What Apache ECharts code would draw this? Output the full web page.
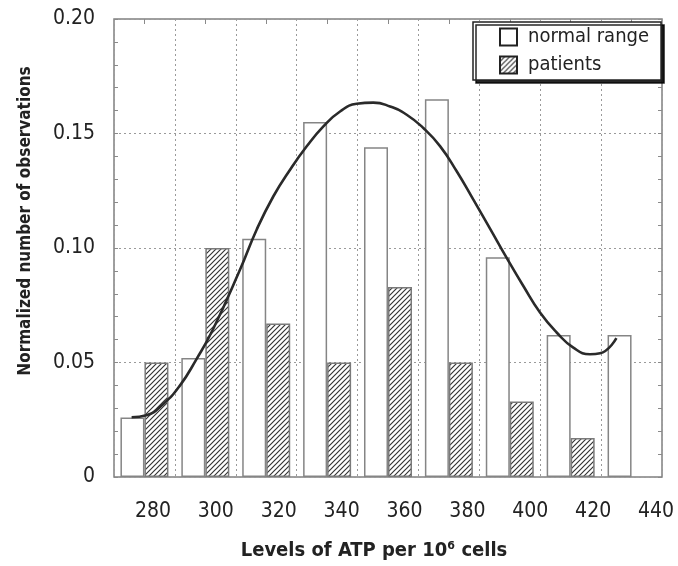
<!DOCTYPE html>
<html>
<head>
<meta charset="utf-8">
<script src="https://cdn.jsdelivr.net/npm/echarts@6/dist/echarts.min.js"></script>
<style>
  html, body { margin: 0; padding: 0; background: #fff; }
  #chart { width: 678px; height: 566px; }
</style>
</head>
<body>
<div id="chart"></div>
<script>
// ---- data ----
const binCentres   = ['277', '297', '316', '335', '355', '374', '394', '413', '432'];
const normalRange  = [0.026, 0.052, 0.104, 0.155, 0.144, 0.165, 0.096, 0.062, 0.062];
const patients     = [0.050, 0.100, 0.067, 0.050, 0.083, 0.050, 0.033, 0.017, null];
const curveX = [273.2, 277.9, 283.2, 288.5, 293.8, 299.1, 307.7, 313.0, 318.3, 323.6, 328.9,
                334.2, 339.5, 344.8, 350.1, 355.4, 360.7, 366.0, 371.3, 376.6, 381.9, 387.2, 392.5, 397.8,
                403.1, 408.4, 413.7, 419.0, 422.2, 427.4];
const curveY = [0.0261, 0.0270, 0.0318, 0.0398, 0.0514, 0.0645, 0.0906, 0.1081, 0.1226, 0.1342, 0.1444,
                0.1531, 0.1596, 0.1630, 0.1635, 0.1618, 0.1582, 0.1524, 0.1445, 0.1335, 0.1211, 0.1085, 0.0957, 0.0834,
                0.0718, 0.0631, 0.0565, 0.0536, 0.0540, 0.0606];
const xTickLabels = [280, 300, 320, 340, 360, 380, 400, 420, 440];
const yTickLabels = [0, 0.05, 0.10, 0.15, 0.20];

const FONT = '"Liberation Sans Narrow", "DejaVu Sans Condensed", "Roboto Condensed", sans-serif';

// hatch pattern
const tile = document.createElement('canvas');
tile.width = 5; tile.height = 5;
const tc = tile.getContext('2d');
tc.fillStyle = '#fff';
tc.fillRect(0, 0, 5, 5);
tc.strokeStyle = '#333';
tc.lineWidth = 1.15;
tc.beginPath();
tc.moveTo(-1, 6); tc.lineTo(6, -1);
tc.moveTo(-2, 2); tc.lineTo(2, -2);
tc.moveTo(3, 7); tc.lineTo(7, 3);
tc.stroke();

const chart = echarts.init(document.getElementById('chart'), null, { renderer: 'canvas' });

const curveData = curveX.map((x, i) => [x, curveY[i]]);

const dotted = { color: '#9a9a9a', width: 1, type: [2, 3] };

chart.setOption({
  animation: false,
  backgroundColor: '#fff',
  textStyle: { fontFamily: FONT },
  grid: {
    left: 114, right: 16, top: 19, bottom: 88,
    show: true, borderColor: '#808080', borderWidth: 1.5, backgroundColor: '#fff',
    containLabel: false
  },
  legend: {
    orient: 'vertical',
    left: 473, top: 22,
    padding: [5, 12, 5, 26],
    itemWidth: 17, itemHeight: 17, itemGap: 8,
    backgroundColor: '#fff',
    borderColor: '#222', borderWidth: 1.5,
    shadowColor: 'rgba(0,0,0,0.85)', shadowOffsetX: 3, shadowOffsetY: 3, shadowBlur: 0,
    textStyle: { fontFamily: FONT, fontSize: 20, color: '#222', padding: [0, 0, 0, 6] },
    data: [
      { name: 'normal range', icon: 'rect', itemStyle: { color: '#fff', borderColor: '#222', borderWidth: 2 } },
      { name: 'patients', icon: 'rect', itemStyle: { borderColor: '#222', borderWidth: 2 } }
    ]
  },
  xAxis: [
    {
      type: 'category', data: binCentres, gridIndex: 0, position: 'bottom',
      boundaryGap: true,
      axisLine: { show: false }, axisTick: { show: false }, axisLabel: { show: false },
      splitLine: { show: true, interval: 0, lineStyle: dotted }
    },
    {
      type: 'value', gridIndex: 0, position: 'bottom',
      min: 267.6, max: 441.9,
      axisLine: { show: false }, axisTick: { show: false },
      splitLine: { show: false },
      axisLabel: {
        customValues: xTickLabels,
        fontFamily: FONT, fontSize: 21, color: '#222', margin: 24
      },
      name: 'Levels of ATP per 10\u2076 cells',
      nameLocation: 'middle', nameGap: 64,
      nameTextStyle: { fontFamily: FONT, fontSize: 20, fontWeight: 'bold', color: '#222', padding: [0, 28, 0, 0] }
    },
    {
      type: 'category', data: binCentres, gridIndex: 0, position: 'top',
      boundaryGap: true,
      axisLine: { show: false },
      axisTick: { show: true, inside: true, length: 5, alignWithLabel: true, interval: 0, lineStyle: { color: '#8a8a8a' } },
      axisLabel: { show: false }, splitLine: { show: false }
    }
  ],
  yAxis: [
    {
      type: 'value', position: 'left', min: 0, max: 0.2, interval: 0.05,
      axisLine: { show: false },
      axisTick: { show: true, inside: true, length: 4, lineStyle: { color: '#8a8a8a' } },
      minorTick: { show: true, splitNumber: 5, length: 4, lineStyle: { color: '#8a8a8a' } },
      splitLine: { show: true, lineStyle: dotted },
      axisLabel: {
        customValues: yTickLabels,
        formatter: v => (v === 0 ? '0' : v.toFixed(2)),
        fontFamily: FONT, fontSize: 21, color: '#222', margin: 19
      },
      name: 'Normalized number of observations',
      nameLocation: 'middle', nameGap: 80,
      nameTextStyle: { fontFamily: FONT, fontSize: 17, fontWeight: 'bold', color: '#222', padding: [0, 0, 0, 54] }
    },
    {
      type: 'value', position: 'right', min: 0, max: 0.2, interval: 0.05,
      axisLine: { show: false },
      axisTick: { show: true, inside: true, length: 4, lineStyle: { color: '#8a8a8a' } },
      minorTick: { show: true, splitNumber: 5, length: 4, lineStyle: { color: '#8a8a8a' } },
      splitLine: { show: false }, axisLabel: { show: false }
    }
  ],
  series: [
    {
      name: 'normal range', type: 'bar', xAxisIndex: 0, yAxisIndex: 0,
      data: normalRange, barWidth: 24, barGap: '0%',
      itemStyle: { color: '#fff', borderColor: '#858585', borderWidth: 1.5 },
      z: 2
    },
    {
      name: 'patients', type: 'bar', xAxisIndex: 0, yAxisIndex: 0,
      data: patients, barWidth: 24, barGap: '0%',
      itemStyle: { color: { image: tile, repeat: 'repeat' }, borderColor: '#7a7a7a', borderWidth: 1.5 },
      z: 2
    },
    {
      name: 'fit', type: 'line', xAxisIndex: 1, yAxisIndex: 0,
      data: curveData, smooth: true, showSymbol: false, symbol: 'none',
      lineStyle: { color: '#2a2a2a', width: 2.6 },
      z: 5
    }
  ]
});
</script>
</body>
</html>
